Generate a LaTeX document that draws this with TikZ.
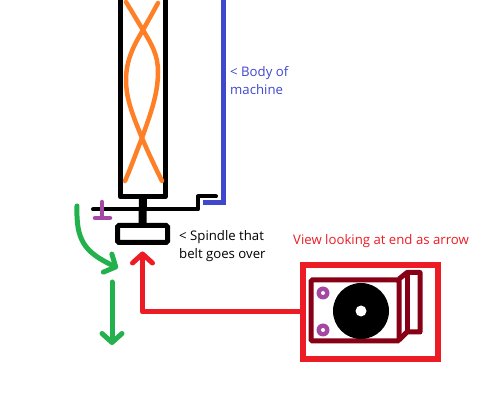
\documentclass[tikz,border=0pt]{standalone}
\usepackage{fontspec}
\setmainfont{Open Sans}
\usetikzlibrary{arrows.meta,positioning,calc}
\definecolor{bodyblue}{HTML}{3F48CC}
\definecolor{beltorange}{HTML}{FF7F27}
\definecolor{gripurple}{HTML}{A349A4}
\definecolor{motionGreen}{HTML}{22B14C}
\definecolor{viewred}{HTML}{ED1C24}
\definecolor{endmaroon}{HTML}{880015}

\begin{document}
\begin{tikzpicture}[
  x=1pt, y=-1pt,
  font=\fontsize{13.2}{18}\selectfont,
  blk/.style={draw=black, line width=5pt, line join=round, line cap=round},
  belt/.style={draw=beltorange, line width=4.5pt, line cap=round},
  lbl/.style={inner sep=0pt, align=left, anchor=north west},
  part/.style={draw=black, line width=5pt, rounded corners=1.5pt, minimum width=50pt, minimum height=17pt, inner sep=0pt},
  hole/.style={circle, fill=gripurple, minimum size=13pt, inner sep=0pt},
  ar/.style={-{Straight Barb[length=9pt, width=20pt, round]}, line cap=round, line join=round},
  grn/.style={ar, draw=motionGreen, line width=5pt},
  redar/.style={ar, draw=viewred, line width=5pt}
]
\useasboundingbox (0,0) rectangle (496,414);

% column with the belt inside
\draw[blk] (120.5,-5) -- (120.5,197) -- (165,197) -- (165,-5);
\draw[belt] (126,2) .. controls (134,15) and (138,22) .. (143,30)
  .. controls (152,45) and (158,55) .. (158,72) .. controls (158,95) and (150,115) .. (142,138)
  .. controls (137,150) and (132,165) .. (125,181);
\draw[belt] (158,3) .. controls (152,14) and (148,21) .. (143,30)
  .. controls (134,45) and (126,60) .. (126,80) .. controls (126,100) and (134,118) .. (142,138)
  .. controls (148,152) and (155,167) .. (162,181);

% shaft and spindle
\node[part] (spindle) at (142.5,234) {};
\draw[black, line width=8pt] (143,197) -- (spindle.north);
\draw[blk, line width=4pt] (93,209.5) -- (198,209.5) -- (198,196.5) -- (216,196.5);
\draw[draw=gripurple, line width=4.5pt, line cap=round] (102,202) -- (102,218) (95,218) -- (110,218);

\draw[draw=bodyblue, line width=5pt, line join=miter] (223,-5) -- (223,203) -- (203,203);
\node[lbl, text=bodyblue] (bodylbl) at (230,66.5) {< Body of\\machine};
\node[lbl] (spindlelbl) at (179,230) {< Spindle that\\belt goes over};
\node[lbl, text=viewred] (viewlbl) at (293,234.5) {View looking at end as arrow};

% green arrows
\coordinate (g1) at (77,206);
\coordinate (g2) at (118,268);
\coordinate (g3) at (112,282);
\coordinate (g4) at (112,345);
\draw[grn] (g1) .. controls (76,240) and (84,252) .. (g2);
\draw[grn] (g3) -- (g4);

% end view
\node[draw=viewred, line width=6pt, minimum width=135pt, minimum height=94pt, inner sep=0pt] (viewbox) at (370.5,312) {};
\draw[endmaroon, line width=5pt, rounded corners=1.5pt] (311,280) rectangle (399,341);
\draw[endmaroon, line width=5pt, line join=round] (399,279) -- (407,272.5) -- (420,272.5) -- (420,332) -- (407,332) -- (399,340);
\draw[endmaroon, line width=5pt] (407,272.5) -- (407,332);
\node[circle, fill=black, minimum size=56pt, inner sep=0pt] (disc) at (361,311) {};
\node[circle, fill=white, minimum size=11pt, inner sep=0pt] (bore) at (disc.center) {};
\node[hole] (h1) at (323,293) {};
\node[hole] (h2) at (323,330) {};
\node[circle, fill=white, minimum size=4pt, inner sep=0pt] at (h1.center) {};
\node[circle, fill=white, minimum size=4pt, inner sep=0pt] at (h2.center) {};

\draw[redar, shorten >=6.5pt] (viewbox.west) -| (spindle.south);
\end{tikzpicture}
\end{document}
